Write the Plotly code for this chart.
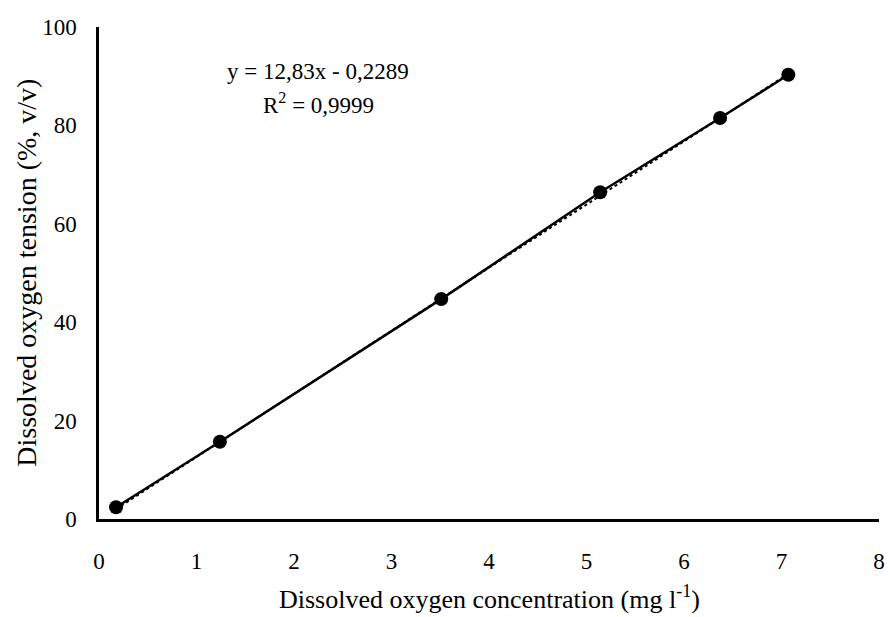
import numpy as np
import plotly.graph_objects as go

# Data
conc = [0.175, 1.24, 3.51, 5.14, 6.37, 7.07]       # Dissolved oxygen concentration (mg l-1)
tension = [2.4, 15.7, 44.7, 66.4, 81.5, 90.3]      # Dissolved oxygen tension (%, v/v)
x_ticks = [0, 1, 2, 3, 4, 5, 6, 7, 8]
y_ticks = [0, 20, 40, 60, 80, 100]
equation_text = "y = 12,83x - 0,2289"
r2_text = "R<sup>2</sup> = 0,9999"
x_title = "Dissolved oxygen concentration (mg l<sup>-1</sup>)"
y_title = "Dissolved oxygen tension (%, v/v)"

slope, intercept = 12.83, -0.2289
trend_x = [conc[0], conc[-1]]
trend_y = [slope * v + intercept for v in trend_x]

FONT = "Liberation Serif, serif"

fig = go.Figure()
fig.add_trace(go.Scatter(
    x=conc, y=tension, mode="lines+markers",
    line=dict(color="black", width=2.5),
    marker=dict(color="black", size=14, symbol="circle"),
    showlegend=False, hoverinfo="skip"))
fig.add_trace(go.Scatter(
    x=trend_x, y=trend_y, mode="lines",
    line=dict(color="black", width=2, dash="dot"),
    showlegend=False, hoverinfo="skip"))

fig.add_annotation(x=0.281, y=0.909, xref="paper", yref="paper",
                   text=equation_text, showarrow=False,
                   font=dict(family=FONT, size=23, color="black"),
                   xanchor="center", yanchor="middle")
fig.add_annotation(x=0.281, y=0.845, xref="paper", yref="paper",
                   text=r2_text, showarrow=False,
                   font=dict(family=FONT, size=23, color="black"),
                   xanchor="center", yanchor="middle")
# axis titles
fig.add_annotation(x=0.5, y=-0.16, xref="paper", yref="paper",
                   text=x_title, showarrow=False,
                   font=dict(family=FONT, size=26, color="black"),
                   xanchor="center", yanchor="middle")
fig.add_annotation(x=-0.094, y=0.5, xref="paper", yref="paper",
                   text=y_title, showarrow=False, textangle=-90,
                   font=dict(family=FONT, size=28, color="black"),
                   xanchor="center", yanchor="middle")

fig.update_layout(
    width=890, height=617,
    margin=dict(l=99, r=11, t=27, b=98, autoexpand=False),
    paper_bgcolor="white", plot_bgcolor="white",
    font=dict(family=FONT, size=23, color="black"),
    xaxis=dict(range=[0, 8], tickvals=x_ticks, showgrid=False, zeroline=False,
               showline=True, linecolor="black", linewidth=2.5, ticks="",
               ticklabelstandoff=20, tickfont=dict(family=FONT, size=23),
               automargin=False),
    yaxis=dict(range=[0, 100], tickvals=y_ticks, showgrid=False, zeroline=False,
               showline=True, linecolor="black", linewidth=2.5, ticks="",
               ticklabelstandoff=15, tickfont=dict(family=FONT, size=23),
               automargin=False),
)

fig.write_html("out.html")
